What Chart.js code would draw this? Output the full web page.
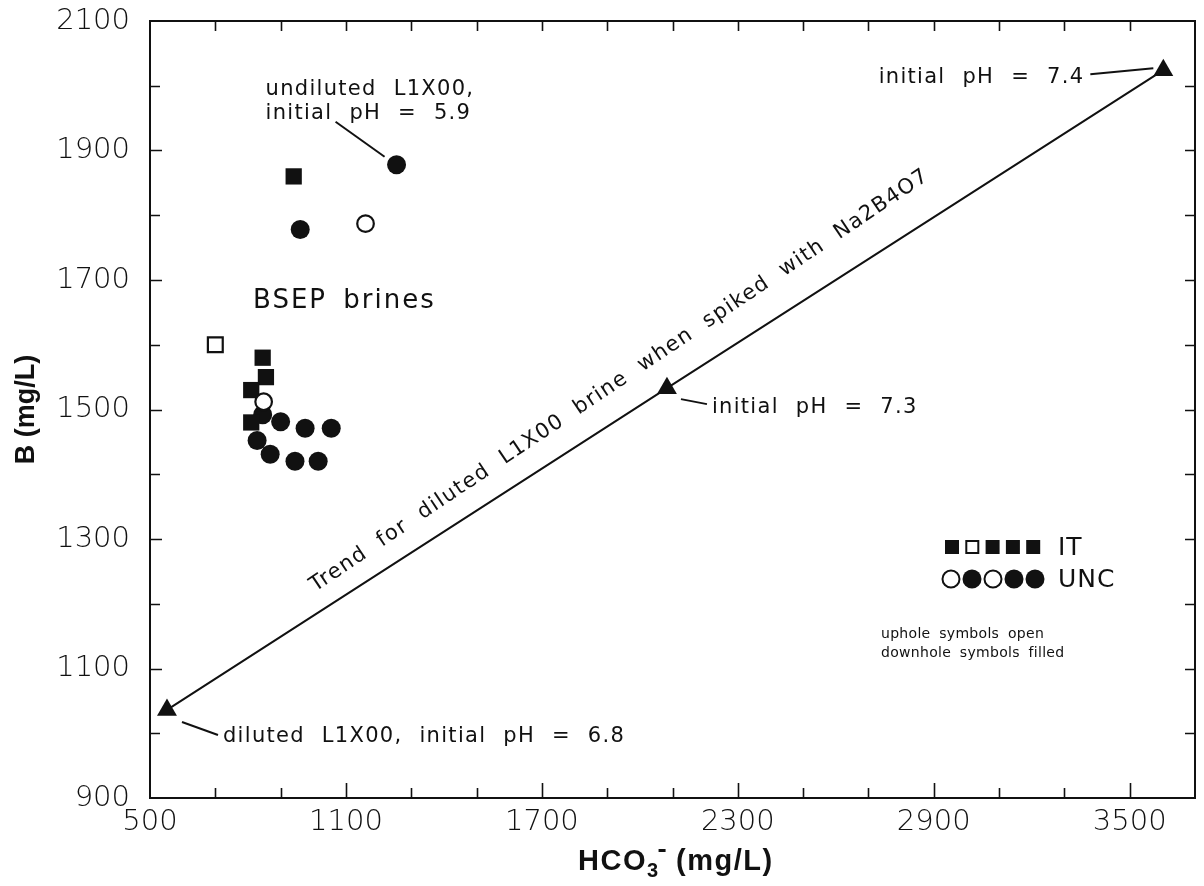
<!DOCTYPE html>
<html>
<head>
<meta charset="utf-8">
<script src="https://cdn.jsdelivr.net/npm/chart.js@4/dist/chart.umd.min.js"></script>
<style>
  html, body { margin: 0; padding: 0; background: #ffffff; }
  #wrap { width: 1204px; height: 886px; }
</style>
</head>
<body>
<div id="wrap"><canvas id="chart" width="1204" height="886"></canvas></div>
<script>
// B versus HCO3- for BSEP brines and the Na2B4O7 spiking trend

// IT wells: downhole (filled squares) and uphole (open squares)
const itDownhole = [
  { x: 940, y: 1860 }, { x: 845, y: 1580 }, { x: 855, y: 1550 },
  { x: 810, y: 1530 }, { x: 810, y: 1480 }
];
const itUphole = [{ x: 700, y: 1600 }];

// UNC wells: downhole (filled circles) and uphole (open circles)
const uncDownhole = [
  { x: 1255, y: 1878 }, { x: 960, y: 1778 }, { x: 845, y: 1492 },
  { x: 900, y: 1481 }, { x: 975, y: 1471 }, { x: 1055, y: 1471 },
  { x: 828, y: 1452 }, { x: 868, y: 1431 }, { x: 944, y: 1420 },
  { x: 1015, y: 1420 }
];
const uncUphole = [{ x: 1160, y: 1787 }, { x: 848, y: 1512 }];

// Diluted L1X00 brine spiked with Na2B4O7 (initial pH 6.8, 7.3, 7.4)
const trendPoints = [{ x: 552, y: 1036 }, { x: 2083, y: 1533 }, { x: 3603, y: 2024 }];
const trendLabels = [
  'diluted L1X00, initial pH = 6.8',
  'initial pH = 7.3',
  'initial pH = 7.4'
];

// Axis ranges and labelled ticks
const xMin = 500, xMax = 3700, xStep = 200;
const yMin = 900, yMax = 2100, yStep = 100;
const xTickLabels = [500, 1100, 1700, 2300, 2900, 3500];
const yTickLabels = [900, 1100, 1300, 1500, 1700, 1900, 2100];

const INK = '#111111';
const TEXT_FONT = '"DejaVu Sans", "Noto Sans", sans-serif';
const TITLE_FONT = '"Liberation Sans", Arial, sans-serif';

function setText(ctx, size, weight, spacing, wordGap) {
  ctx.font = weight + ' ' + size + 'px ' + TEXT_FONT;
  ctx.letterSpacing = (spacing || 0) + 'px';
  ctx.wordSpacing = (wordGap || 0) + 'px';
  ctx.fillStyle = INK;
}

// Frame with inward tick marks on all four sides, plus axis titles
const framePlugin = {
  id: 'frame',
  beforeDatasetsDraw(chart) {
    const { ctx, chartArea: a, scales: { x, y } } = chart;
    ctx.save();
    ctx.strokeStyle = INK;
    ctx.lineWidth = 2;
    ctx.strokeRect(a.left, a.top, a.right - a.left, a.bottom - a.top);
    ctx.lineWidth = 1.6;
    ctx.beginPath();
    for (let v = xMin + xStep; v < xMax; v += xStep) {
      const px = Math.round(x.getPixelForValue(v)) + 0.5;
      const len = xTickLabels.includes(v) ? 15 : 10;
      ctx.moveTo(px, a.bottom); ctx.lineTo(px, a.bottom - len);
      ctx.moveTo(px, a.top); ctx.lineTo(px, a.top + 10);
    }
    for (let v = yMin + yStep; v < yMax; v += yStep) {
      const py = Math.round(y.getPixelForValue(v)) + 0.5;
      const len = yTickLabels.includes(v) ? 12 : 10;
      ctx.moveTo(a.left, py); ctx.lineTo(a.left + len, py);
      ctx.moveTo(a.right, py); ctx.lineTo(a.right - 10, py);
    }
    ctx.stroke();

    // axis titles
    ctx.fillStyle = INK;
    ctx.letterSpacing = '0px';
    ctx.font = 'bold 27px ' + TITLE_FONT;
    ctx.save();
    ctx.translate(27, (a.top + a.bottom) / 2);
    ctx.rotate(-Math.PI / 2);
    ctx.textAlign = 'center';
    ctx.textBaseline = 'middle';
    ctx.fillText('B (mg/L)', 0, 0);
    ctx.restore();

    const base = 870;
    let cx = 578;
    ctx.textAlign = 'left';
    ctx.textBaseline = 'alphabetic';
    ctx.font = 'bold 29px ' + TITLE_FONT;
    ctx.letterSpacing = '1.5px';
    ctx.fillText('HCO', cx, base);
    cx += ctx.measureText('HCO').width;
    ctx.font = 'bold 20px ' + TITLE_FONT;
    ctx.fillText('3', cx, base + 7);
    const w3 = ctx.measureText('3').width;
    // superscript minus sign
    ctx.fillRect(cx + w3 - 1, base - 21, 7, 3);
    cx += w3 + 7;
    ctx.font = 'bold 29px ' + TITLE_FONT;
    ctx.fillText(' (mg/L)', cx, base);
    ctx.restore();
  }
};

// Text annotations anchored to the plotted points
const notesPlugin = {
  id: 'notes',
  beforeDatasetsDraw(chart) {
    const { ctx, scales: { x, y } } = chart;
    const px = p => x.getPixelForValue(p.x);
    const py = p => y.getPixelForValue(p.y);
    ctx.save();
    ctx.strokeStyle = INK;
    ctx.lineWidth = 2;
    ctx.textBaseline = 'alphabetic';
    ctx.textAlign = 'left';

    // diluted L1X00 (first trend point)
    const t0 = trendPoints[0], t1 = trendPoints[1], t2 = trendPoints[2];
    const x0 = px(t0), y0 = py(t0);
    ctx.beginPath();
    ctx.moveTo(x0 + 15, y0 + 12); ctx.lineTo(x0 + 51, y0 + 25);
    ctx.stroke();
    setText(ctx, 21, 'normal', 1.3, 9);
    ctx.fillText(trendLabels[0], x0 + 56, y0 + 32);

    // pH 7.3
    const x1 = px(t1), y1 = py(t1);
    ctx.beginPath();
    ctx.moveTo(x1 + 14, y1 + 11); ctx.lineTo(x1 + 40, y1 + 16);
    ctx.stroke();
    ctx.fillText(trendLabels[1], x1 + 45, y1 + 25);

    // pH 7.4
    const x2 = px(t2), y2 = py(t2);
    ctx.beginPath();
    ctx.moveTo(x2 - 10, y2 - 2); ctx.lineTo(x2 - 73, y2 + 4);
    ctx.stroke();
    ctx.textAlign = 'right';
    ctx.fillText(trendLabels[2], x2 - 79, y2 + 13);
    ctx.textAlign = 'left';

    // undiluted L1X00
    const u = uncDownhole[0];
    const ux = px(u), uy = py(u);
    ctx.beginPath();
    ctx.moveTo(ux - 12, uy - 8); ctx.lineTo(ux - 61, uy - 43);
    ctx.stroke();
    ctx.fillText('undiluted L1X00,', ux - 131, uy - 70);
    ctx.fillText('initial pH = 5.9', ux - 131, uy - 46);

    // group label
    setText(ctx, 26, 'normal', 2, 6);
    ctx.fillText('BSEP brines', 253, 308);

    // trend description above the line
    const ang = Math.atan2(y1 - y0, x1 - x0);
    const t = 0.317;
    const sx = x0 + (x1 - x0) * t, sy = y0 + (y1 - y0) * t;
    ctx.save();
    ctx.translate(sx, sy);
    ctx.rotate(ang);
    ctx.translate(0, -19);
    ctx.rotate(-0.02);
    setText(ctx, 21, 'normal', 1.4, 8);
    ctx.fillText('Trend for diluted L1X00 brine when spiked with Na2B4O7', 0, 0);
    ctx.restore();

    ctx.restore();
  },
  afterDatasetsDraw(chart) {
    // symbol key
    const { ctx } = chart;
    ctx.save();
    ctx.fillStyle = INK;
    ctx.strokeStyle = INK;
    ctx.lineWidth = 2;
    const sq = [true, false, true, true, true];
    sq.forEach((filled, i) => {
      const cx = 952 + i * 20.3, cy = 547, h = 7;
      if (filled) ctx.fillRect(cx - h, cy - h, 2 * h, 2 * h);
      else ctx.strokeRect(cx - h + 1, cy - h + 1, 2 * h - 2, 2 * h - 2);
    });
    const ci = [false, true, false, true, true];
    ci.forEach((filled, i) => {
      const cx = 951 + i * 21, cy = 579, r = 9.5;
      ctx.beginPath();
      if (filled) { ctx.arc(cx, cy, r, 0, Math.PI * 2); ctx.fill(); }
      else { ctx.arc(cx, cy, r - 1, 0, Math.PI * 2); ctx.stroke(); }
    });
    setText(ctx, 25, 'normal', 1, 0);
    ctx.textBaseline = 'middle';
    ctx.fillText('IT', 1058, 548);
    ctx.fillText('UNC', 1058, 580);
    ctx.textBaseline = 'alphabetic';
    setText(ctx, 14, 'normal', 0.3, 4);
    ctx.fillText('uphole symbols open', 881, 638);
    ctx.fillText('downhole symbols filled', 881, 657);
    ctx.restore();
  }
};

// x labels: line height sets their distance below the axis (no extra padding)
const xTickFont = { family: TEXT_FONT, size: 29, weight: 300, lineHeight: 1.72 };
// y labels: near-zero line height keeps the plot top at the layout padding
const yTickFont = { family: TEXT_FONT, size: 29, weight: 300, lineHeight: 0.02 };

new Chart(document.getElementById('chart'), {
  type: 'scatter',
  data: {
    datasets: [
      {
        label: 'Spiked L1X00 trend',
        data: trendPoints,
        showLine: true,
        borderColor: INK,
        borderWidth: 2,
        pointStyle: 'triangle',
        pointRadius: 11.5,
        pointBackgroundColor: INK,
        pointBorderColor: INK,
        pointBorderWidth: 0
      },
      {
        label: 'IT uphole',
        data: itUphole,
        pointStyle: 'rect',
        pointRadius: 10.5,
        pointBackgroundColor: '#ffffff',
        pointBorderColor: INK,
        pointBorderWidth: 2.2
      },
      {
        label: 'UNC uphole',
        data: uncUphole,
        pointStyle: 'circle',
        pointRadius: 8.3,
        pointBackgroundColor: '#ffffff',
        pointBorderColor: INK,
        pointBorderWidth: 2.2
      },
      {
        label: 'IT downhole',
        data: itDownhole,
        pointStyle: 'rect',
        pointRadius: 11.5,
        pointBackgroundColor: INK,
        pointBorderColor: INK,
        pointBorderWidth: 0
      },
      {
        label: 'UNC downhole',
        data: uncDownhole,
        pointStyle: 'circle',
        pointRadius: 9.5,
        pointBackgroundColor: INK,
        pointBorderColor: INK,
        pointBorderWidth: 0
      }
    ]
  },
  options: {
    responsive: false,
    animation: false,
    layout: { autoPadding: false, padding: { left: 0, right: 9, top: 21, bottom: 0 } },
    plugins: { legend: { display: false }, tooltip: { enabled: false } },
    scales: {
      x: {
        type: 'linear',
        min: xMin, max: xMax,
        grid: { display: false, drawTicks: false },
        border: { display: false },
        ticks: {
          stepSize: xStep, autoSkip: false, maxRotation: 0,
          color: INK, font: xTickFont, padding: 0,
          callback: v => xTickLabels.includes(v) ? String(v) : ''
        },
        afterFit(s) { s.height = 88; }
      },
      y: {
        type: 'linear',
        min: yMin, max: yMax,
        grid: { display: false, drawTicks: false },
        border: { display: false },
        ticks: {
          stepSize: yStep, autoSkip: false,
          color: INK, font: yTickFont, padding: 20,
          callback: v => yTickLabels.includes(v) ? String(v) : ''
        },
        afterFit(s) { s.width = 150; }
      }
    }
  },
  plugins: [framePlugin, notesPlugin]
});
</script>
</body>
</html>
